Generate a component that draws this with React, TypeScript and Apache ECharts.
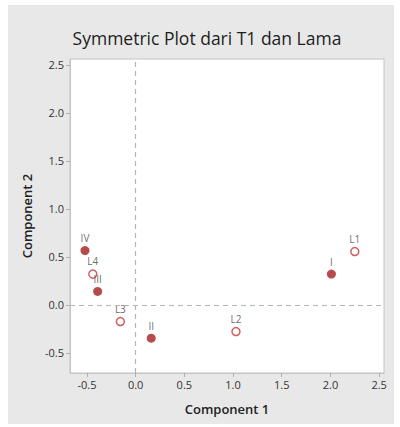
import React, { useEffect, useRef } from "react";
import * as echarts from "echarts";

const rowNames = ["I", "II", "III", "IV"];
const rowX = [2.01, 0.16, -0.39, -0.52];
const rowY = [0.32, -0.347, 0.14, 0.565];

const colNames = ["L1", "L2", "L3", "L4"];
const colX = [2.25, 1.03, -0.157, -0.44];
const colY = [0.555, -0.278, -0.174, 0.32];

const xTicks = [-0.5, 0, 0.5, 1, 1.5, 2, 2.5];
const yTicks = [-0.5, 0, 0.5, 1, 1.5, 2, 2.5];

const FONT = "'Open Sans', 'Noto Sans', sans-serif";

export default function App() {
  const ref = useRef<HTMLDivElement>(null);
  useEffect(() => {
    if (!ref.current) return;
    const chart = echarts.init(ref.current, null, { renderer: "svg" });
    const fmt = (v: number) => v.toFixed(1);
    const axisCommon = {
      type: "value" as const,
      splitLine: { show: false },
      axisLine: { show: true, onZero: false, lineStyle: { color: "#c4c4c4", width: 1 } },
      axisTick: { show: true, length: 4, lineStyle: { color: "#b0b0b0" } },
      nameLocation: "middle" as const,
      nameTextStyle: { fontFamily: FONT, fontSize: 13, fontWeight: 600, color: "#222" },
    };
    chart.setOption({
      animation: false,
      backgroundColor: "#ffffff",
      textStyle: { fontFamily: FONT },
      graphic: [
        {
          type: "rect",
          z: -10,
          silent: true,
          shape: { x: 8, y: 5, width: 386, height: 419 },
          style: { fill: "#e8e8e8" },
        },
        {
          type: "text",
          x: 207,
          y: 38,
          silent: true,
          style: {
            text: "Symmetric Plot dari T1 dan Lama",
            fontFamily: FONT,
            fontSize: 17.5,
            fontWeight: 500,
            fill: "#1e1e1e",
            align: "center",
            verticalAlign: "middle",
          },
        },
      ],
      grid: {
        left: 70,
        top: 59,
        right: 16,
        bottom: 54,
        show: true,
        backgroundColor: "#ffffff",
        borderColor: "#c4c4c4",
        borderWidth: 1,
      },
      xAxis: {
        ...axisCommon,
        min: -0.674,
        max: 2.55,
        name: "Component 1",
        nameGap: 29,
        axisTick: { ...axisCommon.axisTick, customValues: xTicks },
        axisLabel: {
          customValues: xTicks,
          formatter: fmt,
          fontFamily: FONT,
          fontSize: 11,
          color: "#333",
          margin: 6,
        },
      },
      yAxis: {
        ...axisCommon,
        min: -0.71,
        max: 2.56,
        name: "Component 2",
        nameGap: 37,
        axisTick: { ...axisCommon.axisTick, customValues: yTicks },
        axisLabel: {
          customValues: yTicks,
          formatter: fmt,
          fontFamily: FONT,
          fontSize: 11,
          color: "#333",
          margin: 6,
        },
      },
      series: [
        {
          type: "scatter",
          name: "rows",
          symbol: "circle",
          symbolSize: 9,
          itemStyle: { color: "#a51d1d" },
          label: {
            show: true,
            position: "top",
            distance: 3,
            formatter: (p: any) => p.data[2],
            fontFamily: FONT,
            fontSize: 10,
            color: "#444",
          },
          data: rowX.map((x, i) => [x, rowY[i], rowNames[i]]),
          markLine: {
            silent: true,
            symbol: "none",
            label: { show: false },
            lineStyle: { color: "#b4b4b4", type: [5, 4], width: 1.2 },
            data: [{ xAxis: 0 }, { yAxis: 0 }],
          },
          z: 3,
        },
        {
          type: "scatter",
          name: "cols",
          symbol: "circle",
          symbolSize: 8,
          itemStyle: { color: "#ffffff", borderColor: "#c23b3b", borderWidth: 1.5 },
          label: {
            show: true,
            position: "top",
            distance: 3,
            formatter: (p: any) => p.data[2],
            fontFamily: FONT,
            fontSize: 10,
            color: "#444",
          },
          data: colX.map((x, i) => [x, colY[i], colNames[i]]),
          z: 3,
        },
      ],
    });
    return () => chart.dispose();
  }, []);
  return (
    <div
      ref={ref}
      style={{ position: "absolute", left: 0, top: 0, width: 400, height: 427 }}
    />
  );
}
